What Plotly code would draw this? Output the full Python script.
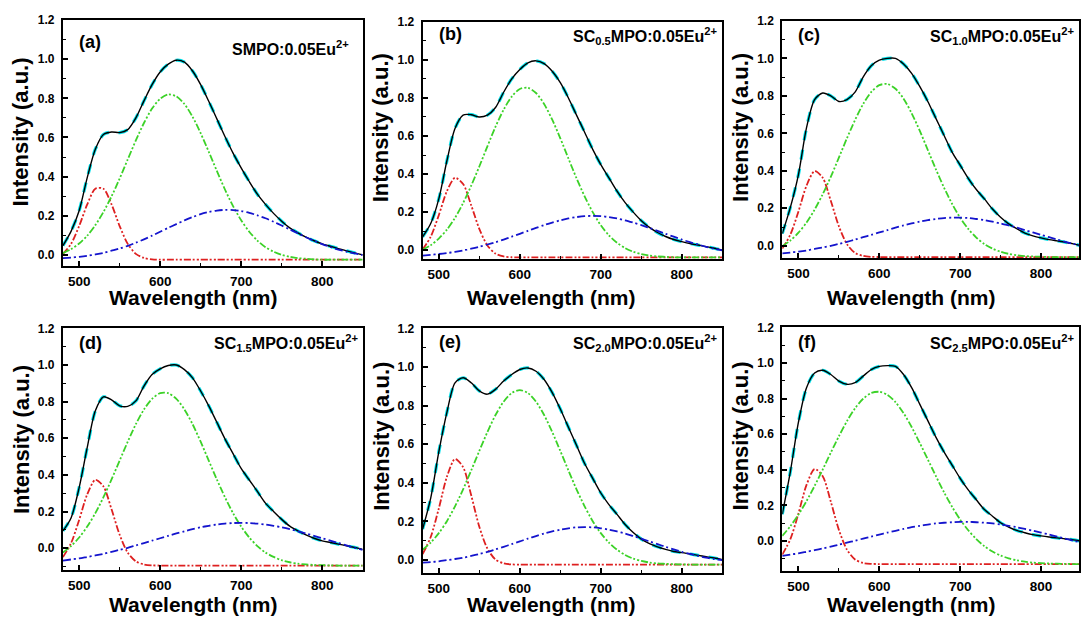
import plotly.graph_objects as go

# ---------------- data ----------------
wavelength = [480, 490, 500, 510, 520, 530, 540, 550, 560, 570, 580, 590, 600, 610, 620, 630, 640, 650, 660,
              670, 680, 690, 700, 710, 720, 730, 740, 750, 760, 770, 780, 790, 800, 810, 820, 830, 840, 850]

x_ticks = [500, 600, 700, 800]
y_ticks = [0.0, 0.2, 0.4, 0.6, 0.8, 1.0, 1.2]

# (a) SMPO:0.05Eu2+
total_a = [0.047, 0.120, 0.225, 0.395, 0.540, 0.615, 0.628, 0.625, 0.640, 0.700, 0.787, 0.870, 0.935, 0.975,
           0.995, 0.985, 0.940, 0.870, 0.785, 0.695, 0.605, 0.520, 0.445, 0.375, 0.310, 0.258, 0.212, 0.172,
           0.138, 0.112, 0.090, 0.072, 0.056, 0.044, 0.032, 0.020, 0.010, 0.000]
red_a = [0.005, 0.056, 0.147, 0.258, 0.338, 0.338, 0.258, 0.147, 0.056, 0.005, -0.016, -0.023, -0.025, -0.025,
         -0.025, -0.025, -0.025, -0.025, -0.025, -0.025, -0.025, -0.025, -0.025, -0.025, -0.025, -0.025, -0.025,
         -0.025, -0.025, -0.025, -0.025, -0.025, -0.025, -0.025, -0.025, -0.025, -0.025, -0.025]
green_a = [0.009, 0.029, 0.058, 0.098, 0.152, 0.219, 0.299, 0.390, 0.488, 0.585, 0.674, 0.748, 0.798, 0.820,
           0.810, 0.771, 0.706, 0.622, 0.527, 0.429, 0.334, 0.249, 0.177, 0.118, 0.073, 0.039, 0.016, 0.000,
           -0.010, -0.017, -0.020, -0.023, -0.025, -0.025, -0.025, -0.025, -0.025, -0.025]
blue_a = [-0.017, -0.014, -0.010, -0.005, 0.002, 0.010, 0.021, 0.032, 0.046, 0.062, 0.079, 0.098, 0.118, 0.138,
          0.157, 0.176, 0.193, 0.208, 0.219, 0.226, 0.230, 0.229, 0.224, 0.215, 0.202, 0.187, 0.169, 0.150,
          0.130, 0.110, 0.090, 0.072, 0.055, 0.040, 0.027, 0.016, 0.007, -0.001]

# (b) SC0.5MPO:0.05Eu2+
total_b = [0.070, 0.140, 0.270, 0.470, 0.640, 0.710, 0.712, 0.700, 0.710, 0.750, 0.830, 0.900, 0.950, 0.985,
           0.995, 0.980, 0.940, 0.880, 0.800, 0.710, 0.620, 0.530, 0.450, 0.380, 0.310, 0.250, 0.200, 0.155,
           0.120, 0.093, 0.072, 0.056, 0.045, 0.035, 0.027, 0.019, 0.010, 0.000]
red_b = [0.003, 0.071, 0.184, 0.310, 0.380, 0.348, 0.236, 0.112, 0.025, -0.018, -0.033, -0.037, -0.038, -0.038,
         -0.038, -0.038, -0.038, -0.038, -0.038, -0.038, -0.038, -0.038, -0.038, -0.038, -0.038, -0.038, -0.038,
         -0.038, -0.038, -0.038, -0.038, -0.038, -0.038, -0.038, -0.038, -0.038, -0.038, -0.038]
green_b = [0.002, 0.026, 0.061, 0.108, 0.170, 0.248, 0.339, 0.440, 0.546, 0.649, 0.738, 0.807, 0.847, 0.853,
           0.826, 0.768, 0.686, 0.588, 0.482, 0.378, 0.283, 0.200, 0.131, 0.078, 0.039, 0.011, -0.008, -0.021,
           -0.028, -0.033, -0.035, -0.037, -0.038, -0.038, -0.038, -0.038, -0.038, -0.038]
blue_b = [-0.028, -0.024, -0.020, -0.015, -0.009, -0.001, 0.008, 0.018, 0.030, 0.042, 0.056, 0.071, 0.086, 0.102,
          0.117, 0.132, 0.145, 0.157, 0.167, 0.174, 0.179, 0.180, 0.179, 0.174, 0.167, 0.157, 0.145, 0.132,
          0.117, 0.102, 0.086, 0.071, 0.056, 0.042, 0.030, 0.018, 0.008, -0.001]

# (c) SC1.0MPO:0.05Eu2+
total_c = [0.065, 0.205, 0.380, 0.630, 0.780, 0.815, 0.800, 0.770, 0.780, 0.820, 0.900, 0.960, 0.990, 1.000,
           1.000, 0.970, 0.920, 0.850, 0.770, 0.680, 0.590, 0.500, 0.430, 0.360, 0.300, 0.250, 0.196, 0.152,
           0.117, 0.091, 0.068, 0.053, 0.042, 0.033, 0.026, 0.019, 0.010, 0.000]
red_c = [-0.015, 0.060, 0.183, 0.321, 0.398, 0.363, 0.240, 0.104, 0.009, -0.038, -0.054, -0.059, -0.060, -0.060,
         -0.060, -0.060, -0.060, -0.060, -0.060, -0.060, -0.060, -0.060, -0.060, -0.060, -0.060, -0.060, -0.060,
         -0.060, -0.060, -0.060, -0.060, -0.060, -0.060, -0.060, -0.060, -0.060, -0.060, -0.060]
green_c = [-0.002, 0.028, 0.070, 0.124, 0.193, 0.275, 0.368, 0.470, 0.574, 0.671, 0.756, 0.820, 0.857, 0.863,
           0.838, 0.785, 0.707, 0.614, 0.511, 0.408, 0.311, 0.224, 0.150, 0.090, 0.044, 0.009, -0.015, -0.032,
           -0.043, -0.050, -0.055, -0.057, -0.058, -0.060, -0.060, -0.060, -0.060, -0.060]
blue_c = [-0.041, -0.036, -0.031, -0.025, -0.017, -0.009, 0.000, 0.010, 0.021, 0.033, 0.046, 0.058, 0.071, 0.084,
          0.097, 0.109, 0.119, 0.129, 0.137, 0.143, 0.148, 0.150, 0.150, 0.148, 0.143, 0.137, 0.129, 0.119,
          0.109, 0.097, 0.084, 0.071, 0.058, 0.046, 0.033, 0.021, 0.010, 0.000]

# (d) SC1.5MPO:0.05Eu2+
total_d = [0.094, 0.165, 0.330, 0.550, 0.750, 0.826, 0.810, 0.777, 0.774, 0.804, 0.885, 0.948, 0.979, 0.997,
           1.000, 0.975, 0.930, 0.858, 0.777, 0.687, 0.597, 0.516, 0.435, 0.372, 0.310, 0.246, 0.200, 0.157,
           0.120, 0.094, 0.072, 0.054, 0.040, 0.031, 0.022, 0.013, 0.004, -0.007]
red_d = [-0.049, 0.027, 0.154, 0.294, 0.373, 0.337, 0.212, 0.073, -0.025, -0.072, -0.089, -0.094, -0.095, -0.095,
         -0.095, -0.095, -0.095, -0.095, -0.095, -0.095, -0.095, -0.095, -0.095, -0.095, -0.095, -0.095, -0.095,
         -0.095, -0.095, -0.095, -0.095, -0.095, -0.095, -0.095, -0.095, -0.095, -0.095, -0.095]
green_d = [-0.024, 0.011, 0.058, 0.118, 0.191, 0.278, 0.375, 0.478, 0.581, 0.677, 0.757, 0.815, 0.846, 0.846,
           0.815, 0.757, 0.677, 0.581, 0.478, 0.375, 0.278, 0.191, 0.118, 0.058, 0.011, -0.024, -0.048, -0.066,
           -0.077, -0.085, -0.089, -0.092, -0.093, -0.094, -0.095, -0.095, -0.095, -0.095]
blue_d = [-0.068, -0.062, -0.056, -0.048, -0.040, -0.031, -0.020, -0.009, 0.002, 0.015, 0.028, 0.041, 0.054, 0.067,
          0.080, 0.092, 0.104, 0.114, 0.122, 0.129, 0.134, 0.137, 0.138, 0.137, 0.134, 0.129, 0.122, 0.114,
          0.104, 0.092, 0.080, 0.067, 0.054, 0.041, 0.028, 0.015, 0.002, -0.009]

# (e) SC2.0MPO:0.05Eu2+
total_e = [0.160, 0.320, 0.560, 0.765, 0.918, 0.944, 0.918, 0.876, 0.859, 0.884, 0.927, 0.961, 0.987, 0.995,
           0.978, 0.935, 0.867, 0.782, 0.688, 0.594, 0.500, 0.423, 0.347, 0.287, 0.236, 0.184, 0.142, 0.108,
           0.085, 0.068, 0.055, 0.044, 0.038, 0.031, 0.024, 0.017, 0.010, 0.002]
red_e = [0.030, 0.119, 0.267, 0.431, 0.523, 0.481, 0.335, 0.172, 0.059, 0.002, -0.017, -0.023, -0.024, -0.024,
         -0.024, -0.024, -0.024, -0.024, -0.024, -0.024, -0.024, -0.024, -0.024, -0.024, -0.024, -0.024, -0.024,
         -0.024, -0.024, -0.024, -0.024, -0.024, -0.024, -0.024, -0.024, -0.024, -0.024, -0.024]
green_e = [0.053, 0.090, 0.139, 0.201, 0.278, 0.366, 0.464, 0.565, 0.663, 0.751, 0.820, 0.865, 0.880, 0.865,
           0.820, 0.751, 0.663, 0.565, 0.464, 0.366, 0.278, 0.201, 0.139, 0.090, 0.053, 0.026, 0.007, -0.005,
           -0.013, -0.018, -0.020, -0.022, -0.023, -0.024, -0.024, -0.024, -0.024, -0.024]
blue_e = [-0.014, -0.011, -0.007, -0.001, 0.005, 0.012, 0.021, 0.031, 0.042, 0.055, 0.068, 0.082, 0.096, 0.111,
          0.124, 0.137, 0.148, 0.157, 0.164, 0.169, 0.170, 0.169, 0.164, 0.157, 0.148, 0.137, 0.124, 0.111,
          0.096, 0.082, 0.068, 0.055, 0.042, 0.031, 0.021, 0.012, 0.005, -0.001]

# (f) SC2.5MPO:0.05Eu2+
total_f = [0.150, 0.390, 0.667, 0.861, 0.944, 0.959, 0.935, 0.898, 0.880, 0.889, 0.926, 0.963, 0.981, 0.985,
           0.981, 0.935, 0.861, 0.769, 0.676, 0.583, 0.500, 0.426, 0.352, 0.287, 0.231, 0.176, 0.139, 0.102,
           0.078, 0.059, 0.046, 0.035, 0.028, 0.022, 0.017, 0.011, 0.006, -0.002]
red_f = [-0.077, 0.010, 0.154, 0.315, 0.404, 0.364, 0.221, 0.062, -0.049, -0.104, -0.124, -0.129, -0.130, -0.130,
         -0.130, -0.130, -0.130, -0.130, -0.130, -0.130, -0.130, -0.130, -0.130, -0.130, -0.130, -0.130, -0.130,
         -0.130, -0.130, -0.130, -0.130, -0.130, -0.130, -0.130, -0.130, -0.130, -0.130, -0.130]
green_f = [0.028, 0.083, 0.148, 0.224, 0.309, 0.401, 0.496, 0.588, 0.673, 0.745, 0.799, 0.831, 0.838, 0.821,
           0.780, 0.718, 0.640, 0.551, 0.458, 0.364, 0.274, 0.192, 0.120, 0.060, 0.010, -0.030, -0.060, -0.082,
           -0.098, -0.109, -0.117, -0.122, -0.125, -0.127, -0.128, -0.129, -0.130, -0.130]
blue_f = [-0.084, -0.077, -0.070, -0.061, -0.052, -0.042, -0.032, -0.021, -0.010, 0.001, 0.013, 0.024, 0.036, 0.047,
          0.057, 0.067, 0.077, 0.085, 0.092, 0.098, 0.102, 0.105, 0.107, 0.107, 0.105, 0.102, 0.098, 0.092,
          0.085, 0.077, 0.067, 0.057, 0.047, 0.036, 0.024, 0.013, 0.001, -0.010]

panel_letters = ["(a)", "(b)", "(c)", "(d)", "(e)", "(f)"]
sample_names = ["SMPO:0.05Eu<sup>2+</sup>",
                "SC<sub>0.5</sub>MPO:0.05Eu<sup>2+</sup>",
                "SC<sub>1.0</sub>MPO:0.05Eu<sup>2+</sup>",
                "SC<sub>1.5</sub>MPO:0.05Eu<sup>2+</sup>",
                "SC<sub>2.0</sub>MPO:0.05Eu<sup>2+</sup>",
                "SC<sub>2.5</sub>MPO:0.05Eu<sup>2+</sup>"]
totals = [total_a, total_b, total_c, total_d, total_e, total_f]
reds = [red_a, red_b, red_c, red_d, red_e, red_f]
greens = [green_a, green_b, green_c, green_d, green_e, green_f]
blues = [blue_a, blue_b, blue_c, blue_d, blue_e, blue_f]

# ---------------- layout (pixel geometry) ----------------
W, H = 1081, 626
# frame: left, right, top, bottom (px); x-range max; y-range min
frames = [
    (63, 363, 13.3, 261.7, 850, -0.056),
    (423, 723, 15, 255, 850, -0.047),
    (783, 1080, 14, 254, 847, -0.066),
    (63, 363, 325, 569.3, 850, -0.119),
    (423, 723, 325, 572.3, 850, -0.067),
    (783, 1080, 324, 570, 847, -0.167),
]
letter_y = [35, 27, 28, 340, 339, 339]
name_pos = [(351, 41), (720, 29), (1077, 29), (360, 340), (720, 340), (1077, 340)]
xtitle_pos = [(193, 294), (552, 294), (912, 294), (193, 604), (552, 604), (912, 604)]
ytitle_pos = [(21, 126), (381, 122), (741, 122), (21, 437), (381, 434), (741, 434)]

FONT = "Liberation Sans, Arial, sans-serif"
C_RED = "rgb(222,32,32)"
C_GREEN = "rgb(60,210,40)"
C_BLUE = "rgb(20,20,205)"
C_CYAN = "rgb(0,225,235)"

fig = go.Figure()
annotations = []
layout_axes = {}

for i in range(6):
    l, r, t, b, xmax, ymin = frames[i]
    sfx = "" if i == 0 else str(i + 1)
    xa, ya = "x" + sfx, "y" + sfx

    fig.add_trace(go.Scatter(x=wavelength, y=totals[i], mode="lines", xaxis=xa, yaxis=ya,
                             line=dict(color=C_CYAN, width=3.2, dash="dash", shape="spline", smoothing=0.8),
                             showlegend=False, hoverinfo="skip"))
    fig.add_trace(go.Scatter(x=wavelength, y=totals[i], mode="lines", xaxis=xa, yaxis=ya,
                             line=dict(color="black", width=1.4, shape="spline", smoothing=0.8),
                             showlegend=False, hoverinfo="skip"))
    fig.add_trace(go.Scatter(x=wavelength, y=reds[i], mode="lines", xaxis=xa, yaxis=ya,
                             line=dict(color=C_RED, width=1.8, dash="7px,2px,2px,2px,2px,2px",
                                       shape="spline", smoothing=0.8),
                             showlegend=False, hoverinfo="skip"))
    fig.add_trace(go.Scatter(x=wavelength, y=greens[i], mode="lines", xaxis=xa, yaxis=ya,
                             line=dict(color=C_GREEN, width=1.8, dash="7px,2px,2px,2px,2px,2px",
                                       shape="spline", smoothing=0.8),
                             showlegend=False, hoverinfo="skip"))
    fig.add_trace(go.Scatter(x=wavelength, y=blues[i], mode="lines", xaxis=xa, yaxis=ya,
                             line=dict(color=C_BLUE, width=1.8, dash="8px,3px,2px,3px",
                                       shape="spline", smoothing=0.8),
                             showlegend=False, hoverinfo="skip"))

    layout_axes["xaxis" + sfx] = dict(
        domain=[l / W, r / W], anchor=ya, range=[480, xmax],
        tickmode="array", tickvals=x_ticks, ticktext=[str(v) for v in x_ticks],
        ticks="inside", ticklen=5, tickwidth=1.5, tickcolor="black",
        minor=dict(ticks="inside", ticklen=3, tickwidth=1.2, dtick=50, tick0=500, tickcolor="black"),
        showline=True, linewidth=2, linecolor="black", mirror=True,
        showgrid=False, zeroline=False,
        tickfont=dict(family=FONT, size=13.5, color="black", weight="bold"),
        ticklabelstandoff=2,
    )
    layout_axes["yaxis" + sfx] = dict(
        domain=[1 - b / H, 1 - t / H], anchor=xa, range=[ymin, 1.2],
        tickmode="array", tickvals=y_ticks, ticktext=["%.1f" % v for v in y_ticks],
        ticks="inside", ticklen=5, tickwidth=1.5, tickcolor="black",
        minor=dict(ticks="inside", ticklen=3, tickwidth=1.2, dtick=0.1, tick0=0, tickcolor="black"),
        showline=True, linewidth=2, linecolor="black", mirror=True,
        showgrid=False, zeroline=False,
        tickfont=dict(family=FONT, size=12, color="black", weight="bold"),
        ticklabelstandoff=4,
    )

    annotations.append(dict(text=panel_letters[i], xref="paper", yref="paper",
                            x=(l + 14) / W, y=1 - letter_y[i] / H, xanchor="left", yanchor="middle",
                            showarrow=False, font=dict(family=FONT, size=18, color="black", weight="bold")))
    nx, ny = name_pos[i]
    annotations.append(dict(text=sample_names[i], xref="paper", yref="paper",
                            x=nx / W, y=1 - ny / H, xanchor="right", yanchor="middle",
                            showarrow=False, font=dict(family=FONT, size=16, color="black", weight="bold")))
    tx, ty = xtitle_pos[i]
    annotations.append(dict(text="Wavelength (nm)", xref="paper", yref="paper",
                            x=tx / W, y=1 - ty / H, xanchor="center", yanchor="middle",
                            showarrow=False, font=dict(family=FONT, size=21, color="black", weight="bold")))
    yx, yy = ytitle_pos[i]
    annotations.append(dict(text="Intensity (a.u.)", xref="paper", yref="paper",
                            x=yx / W, y=1 - yy / H, xanchor="center", yanchor="middle", textangle=-90,
                            showarrow=False, font=dict(family=FONT, size=22, color="black", weight="bold")))

fig.update_layout(
    width=W, height=H, margin=dict(l=0, r=0, t=0, b=0),
    paper_bgcolor="white", plot_bgcolor="white",
    annotations=annotations, showlegend=False,
    **layout_axes,
)

fig.write_html("out.html", config={"displayModeBar": False},
               post_script="document.body.style.margin='0px';document.body.style.overflow='hidden';"
                           "document.documentElement.style.overflow='hidden';")
